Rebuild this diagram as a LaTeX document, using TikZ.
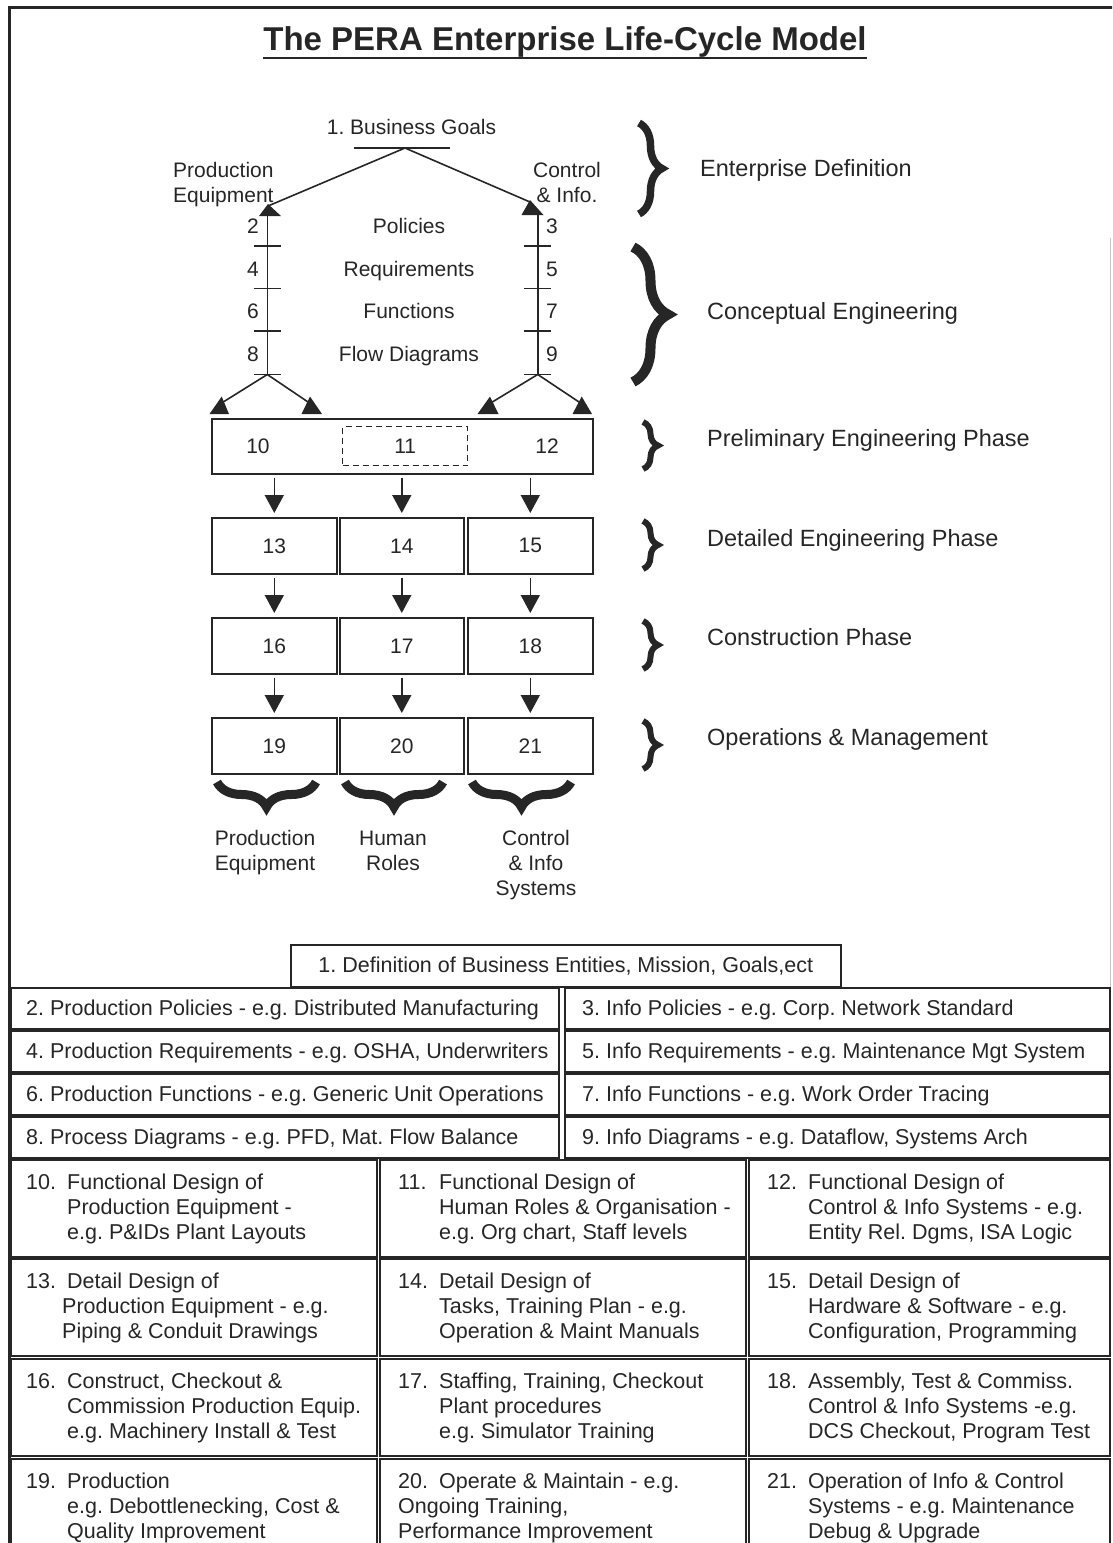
\documentclass[tikz,border=0pt]{standalone}
\usepackage{fontspec}
\setmainfont{Liberation Sans}
\usetikzlibrary{arrows.meta,decorations.pathreplacing}
\frenchspacing

\definecolor{ink}{HTML}{262626}
\definecolor{faint}{HTML}{C4C4C4}

\newcommand\txt{\fontsize{21}{25}\selectfont}
\newcommand\tabtxt{\fontsize{21.5}{25}\selectfont}
\newcommand\bigtxt{\fontsize{23.5}{28}\selectfont}
\newcommand\titletxt{\fontsize{33}{38}\selectfont\bfseries}
\newcommand\stack[1]{\begin{tabular}[t]{@{}l@{}}#1\end{tabular}}
\newcommand\cstack[1]{\begin{tabular}[t]{@{}c@{}}#1\end{tabular}}
\newcommand\itemno[1]{\makebox[41pt][l]{#1}}
\newcommand\indentby[1][41pt]{\hspace*{#1}}

\begin{document}
\begin{tikzpicture}[x=1pt, y=-1pt, line join=miter,
  every node/.style={inner sep=0pt, text=ink, font=\txt},
  conn/.style={draw=ink, line width=1.6pt},
  downarrow/.style={conn, -{Triangle[length=18pt,width=19pt]}, shorten <=3pt, shorten >=4pt},
  stagebox/.style={draw=ink, line width=1.6pt, minimum width=125pt, minimum height=56pt, anchor=north west},
  cellbox/.style={draw=ink, line width=1.6pt, anchor=north west, font=\tabtxt},
  celltext/.style={anchor=base west, font=\tabtxt},
  curly/.style={draw=ink, decorate, decoration={brace, amplitude=#1}},
  phase/.style={anchor=base west, font=\bigtxt},
]
\clip (0,0) rectangle (1112,1543);

% outer frame
\draw[line width=3pt, draw=ink] (9,1560) -- (9,7.5) -- (1120,7.5);
\draw[line width=0.6pt, draw=faint] (1110,238) -- (1110,987);

% title
\node[font=\titletxt, anchor=base] (title) at (565,50) {The PERA Enterprise Life-Cycle Model};
\draw[line width=2pt, draw=ink] ([yshift=-8pt]title.base west) -- ([yshift=-8pt]title.base east);

% ---------- life-cycle diagram ----------
\node[anchor=base] (goals) at (411.5,134.5) {1. Business Goals};
\coordinate (apex) at (405,148);
\draw[conn] ([xshift=-51pt]apex) -- ([xshift=45pt]apex);

\node[anchor=base west] (prodlbl) at (173,177.5) {\stack{Production\\Equipment}};
\node[anchor=base] (ctrllbl) at (567,177.5) {\cstack{Control\\\& Info.}};

% markers at the ends of the two goal branches
\coordinate (tl) at (268,206);
\coordinate (tr) at (530,202);
\fill[ink] (268,204) -- (259,216) -- (281,216) -- cycle;
\fill[ink] (530,200) -- (521.5,215) -- (543.5,215) -- cycle;
\draw[conn] (apex) -- (tl);
\draw[conn] (apex) -- (tr);

% two vertical ladders
\coordinate (ltop) at (267.3,215);
\coordinate (lbot) at (267.3,374.5);
\coordinate (rtop) at (537.7,214);
\coordinate (rbot) at (537.7,374.5);
\draw[conn] (ltop) -- (lbot);
\draw[conn] (rtop) -- (rbot);
\foreach \y in {246,288.5,331,374.5} {
  \draw[conn] (254,\y) -- (281,\y);
  \draw[conn] (524,\y) -- (551,\y);
}

% step numbers and stage names
\node (n2) at (253,226) {2};
\node (n4) at (253,269) {4};
\node (n6) at (253,311) {6};
\node (n8) at (253,354) {8};
\node (n3) at (552,226) {3};
\node (n5) at (552,269) {5};
\node (n7) at (552,311) {7};
\node (n9) at (552,354) {9};
\node[anchor=base] (pol) at (409,233.5) {Policies};
\node[anchor=base] (req) at (409,276.5) {Requirements};
\node[anchor=base] (fun) at (409,318.5) {Functions};
\node[anchor=base] (flow) at (409,361.5) {Flow Diagrams};

% branches down to the preliminary stage
\coordinate (bll) at (220,404);
\coordinate (blr) at (311,404);
\coordinate (brl) at (489,404);
\coordinate (brr) at (582,404);
\draw[conn] (lbot) -- (bll);
\draw[conn] (lbot) -- (blr);
\draw[conn] (rbot) -- (brl);
\draw[conn] (rbot) -- (brr);
\fill[ink] (221.7,396.5) -- (209.5,414) -- (229,414) -- cycle;
\fill[ink] (310,396.5) -- (301.5,414) -- (322,414) -- cycle;
\fill[ink] (490,396.5) -- (477.5,414) -- (498.5,414) -- cycle;
\fill[ink] (581.7,396.5) -- (572.5,414) -- (592,414) -- cycle;

% preliminary engineering
\node[draw=ink, line width=1.6pt, anchor=north west, minimum width=381pt, minimum height=55pt] (b1012) at (211,418) {};
\node (t10) at (258,446) {10};
\node (t12) at (547,446) {12};
\node[draw=ink, line width=1.3pt, dash pattern=on 6pt off 4pt, anchor=north west,
      minimum width=125pt, minimum height=39pt] (b11) at (342,426) {11};

% detailed engineering, construction, operations
\node[stagebox] (b13) at (211,517) {13};
\node[stagebox, minimum width=124pt] (b14) at (339,517) {14};
\node[stagebox] (b15) at (467,517) {15};
\node[stagebox] (b16) at (211,617) {16};
\node[stagebox, minimum width=124pt] (b17) at (339,617) {17};
\node[stagebox] (b18) at (467,617) {18};
\node[stagebox] (b19) at (211,717) {19};
\node[stagebox, minimum width=124pt] (b20) at (339,717) {20};
\node[stagebox] (b21) at (467,717) {21};

\draw[downarrow] (b1012.south -| b13.north) -- (b13.north);
\draw[downarrow] (b1012.south -| b14.north) -- (b14.north);
\draw[downarrow] (b1012.south -| b15.north) -- (b15.north);
\draw[downarrow] (b13.south) -- (b16.north);
\draw[downarrow] (b14.south) -- (b17.north);
\draw[downarrow] (b15.south) -- (b18.north);
\draw[downarrow] (b16.south) -- (b19.north);
\draw[downarrow] (b17.south) -- (b20.north);
\draw[downarrow] (b18.south) -- (b21.north);

% column braces and labels
\draw[curly=25pt, line width=9pt] (316,782) -- (217,782);
\draw[curly=25pt, line width=9pt] (443,782) -- (345,782);
\draw[curly=25pt, line width=9pt] (571,782) -- (472,782);
\node[anchor=base] (colA) at (265,845) {\cstack{Production\\Equipment}};
\node[anchor=base] (colB) at (393,845) {\cstack{Human\\Roles}};
\node[anchor=base] (colC) at (536,845) {\cstack{Control\\\& Info\\Systems}};

% phase braces and labels
\draw[curly=23pt, line width=7.5pt] (639,123) -- (639,214);
\draw[curly=35pt, line width=10pt] (633,247) -- (633,382);
\draw[curly=15pt, line width=6pt] (643,422) -- (643,469);
\draw[curly=15pt, line width=6pt] (643,521) -- (643,569);
\draw[curly=15pt, line width=6pt] (643,621) -- (643,669);
\draw[curly=15pt, line width=6pt] (643,721) -- (643,769);
\node[phase] (ph1) at (700,176.7) {Enterprise Definition};
\node[phase] (ph2) at (707,319) {Conceptual Engineering};
\node[phase] (ph3) at (707,446.4) {Preliminary Engineering Phase};
\node[phase] (ph4) at (707,546.4) {Detailed Engineering Phase};
\node[phase] (ph5) at (707,645.4) {Construction Phase};
\node[phase] (ph6) at (707,745.4) {Operations \& Management};

% ---------- description table ----------
\node[cellbox, minimum width=550pt, minimum height=42pt] (d1) at (290,944)
  {1. Definition of Business Entities, Mission, Goals,ect};

\node[cellbox, minimum width=548pt, minimum height=41pt] (d2) at (10,987) {};
\node[cellbox, minimum width=545pt, minimum height=41pt] (d3) at (564,987) {};
\node[cellbox, minimum width=548pt, minimum height=41pt] (d4) at (10,1030) {};
\node[cellbox, minimum width=545pt, minimum height=41pt] (d5) at (564,1030) {};
\node[cellbox, minimum width=548pt, minimum height=41pt] (d6) at (10,1073) {};
\node[cellbox, minimum width=545pt, minimum height=41pt] (d7) at (564,1073) {};
\node[cellbox, minimum width=548pt, minimum height=41pt] (d8) at (10,1116) {};
\node[cellbox, minimum width=545pt, minimum height=41pt] (d9) at (564,1116) {};

\node[celltext] (e2) at (26,1015.5) {2. Production Policies - e.g. Distributed Manufacturing};
\node[celltext] (e3) at (582,1015.5) {3. Info Policies - e.g. Corp. Network Standard};
\node[celltext] (e4) at (26,1058.5) {4. Production Requirements - e.g. OSHA, Underwriters};
\node[celltext] (e5) at (582,1058.5) {5. Info Requirements - e.g. Maintenance Mgt System};
\node[celltext] (e6) at (26,1101.5) {6. Production Functions - e.g. Generic Unit Operations};
\node[celltext] (e7) at (582,1101.5) {7. Info Functions - e.g. Work Order Tracing};
\node[celltext] (e8) at (26,1144.5) {8. Process Diagrams - e.g. PFD, Mat. Flow Balance};
\node[celltext] (e9) at (582,1144.5) {9. Info Diagrams - e.g. Dataflow, Systems Arch};

\foreach \r/\top/\h in {0/1159/97, 1/1258/97, 2/1358/97, 3/1458/110} {
  \node[cellbox, minimum width=366pt, minimum height=\h pt] (g\r a) at (10,\top) {};
  \node[cellbox, minimum width=366pt, minimum height=\h pt] (g\r b) at (379,\top) {};
  \node[cellbox, minimum width=361pt, minimum height=\h pt] (g\r c) at (748,\top) {};
}

\node[celltext] (e10) at (26,1189.5) {\stack{\itemno{10.}Functional Design of\\\indentby Production Equipment -\\\indentby e.g. P\&IDs Plant Layouts}};
\node[celltext] (e11) at (398,1189.5) {\stack{\itemno{11.}Functional Design of\\\indentby Human Roles \& Organisation -\\\indentby e.g. Org chart, Staff levels}};
\node[celltext] (e12) at (767,1189.5) {\stack{\itemno{12.}Functional Design of\\\indentby Control \& Info Systems - e.g.\\\indentby Entity Rel. Dgms, ISA Logic}};

\node[celltext] (e13) at (26,1288.5) {\stack{\itemno{13.}Detail Design of\\\indentby[36pt]Production Equipment - e.g.\\\indentby[36pt]Piping \& Conduit Drawings}};
\node[celltext] (e14) at (398,1288.5) {\stack{\itemno{14.}Detail Design of\\\indentby Tasks, Training Plan - e.g.\\\indentby Operation \& Maint Manuals}};
\node[celltext] (e15) at (767,1288.5) {\stack{\itemno{15.}Detail Design of\\\indentby Hardware \& Software - e.g.\\\indentby Configuration, Programming}};

\node[celltext] (e16) at (26,1388.5) {\stack{\itemno{16.}Construct, Checkout \&\\\indentby Commission Production Equip.\\\indentby e.g. Machinery Install \& Test}};
\node[celltext] (e17) at (398,1388.5) {\stack{\itemno{17.}Staffing, Training, Checkout\\\indentby Plant procedures\\\indentby e.g. Simulator Training}};
\node[celltext] (e18) at (767,1388.5) {\stack{\itemno{18.}Assembly, Test \& Commiss.\\\indentby Control \& Info Systems -e.g.\\\indentby DCS Checkout, Program Test}};

\node[celltext] (e19) at (26,1488.5) {\stack{\itemno{19.}Production\\\indentby e.g. Debottlenecking, Cost \&\\\indentby Quality Improvement}};
\node[celltext] (e20) at (398,1488.5) {\stack{\itemno{20.}Operate \& Maintain - e.g.\\Ongoing Training,\\Performance Improvement}};
\node[celltext] (e21) at (767,1488.5) {\stack{\itemno{21.}Operation of Info \& Control\\\indentby Systems - e.g. Maintenance\\\indentby Debug \& Upgrade}};
\end{tikzpicture}
\end{document}
